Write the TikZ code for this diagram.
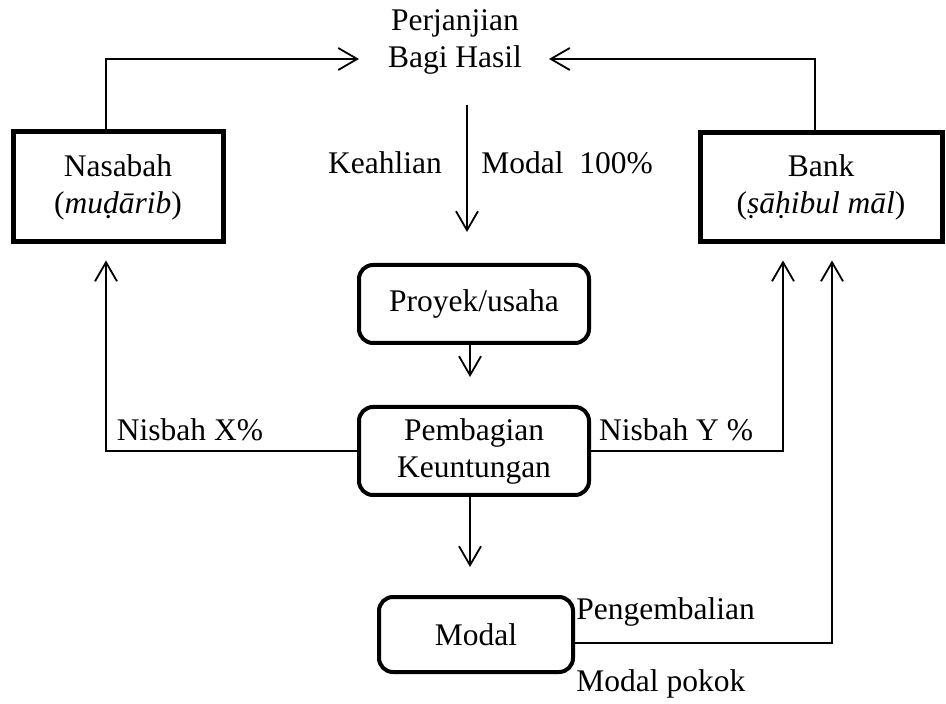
\documentclass[tikz,border=0pt]{standalone}
\usepackage{fontspec}
\setmainfont{Liberation Serif}
\usetikzlibrary{arrows.meta}
\begin{document}
\begin{tikzpicture}[x=0.5pt,y=-0.5pt,
  every node/.style={font=\fontsize{15.75}{18.5}\selectfont, inner sep=0pt},
  sqbox/.style={draw, line width=2.5pt, align=center},
  rbox/.style={draw, line width=2pt, rounded corners=7pt, align=center},
  conn/.style={line width=0.9pt},
  arr/.style={conn, -{Straight Barb[length=9.5pt,width=11pt,line width=0.9pt]}},
  lbl/.style={align=center}]
\useasboundingbox (0,0) rectangle (946,704);
\node[sqbox, minimum width=105pt, minimum height=55pt] (nas) at (118,187) {Nasabah\\(\textit{muḍārib})};
\node[sqbox, minimum width=121pt, minimum height=54.5pt] (bank) at (821,187.5) {Bank\\(\textit{ṣāḥibul māl})};
\node[lbl] (perj) at (455,42) {Perjanjian\\Bagi Hasil};
\node[rbox, minimum width=115pt, minimum height=39pt] (proj) at (474,304) {Proyek/usaha};
\node[rbox, minimum width=115pt, minimum height=44pt] (pemb) at (474,451) {Pembagian\\Keuntungan};
\node[rbox, minimum width=97pt, minimum height=37.5pt] (modal) at (476,634.5) {Modal};
\node (keah) at (385,163) {Keahlian};
\node (m100) at (567,163) {Modal\ \ 100\%};
\node (nx) at (190,430) {Nisbah X\%};
\node (ny) at (676,430) {Nisbah Y \%};
\node[anchor=west] (peng) at (576,612) {Pengembalian};
\node[anchor=west] (mpok) at (576,684) {Modal pokok};
\coordinate (tipL) at (359,59);
\coordinate (tipR) at (549,59);
\coordinate (lx) at (106,0);
\coordinate (rx) at (815,0);
\coordinate (dtop) at (467,105);
\coordinate (dtip) at (467,232);
\coordinate (ny2) at (783,0);
\coordinate (mp) at (832,0);
\draw[arr] (nas.north -| lx) |- (tipL);
\draw[arr] (bank.north -| rx) |- (tipR);
\draw[arr] (dtop) -- (dtip);
\draw[arr, shorten >=14pt] (proj.south -| 470,0) -- (pemb.north -| 470,0);
\draw[arr, shorten >=14pt] (pemb.south -| 470,0) -- (modal.north -| 470,0);
\draw[arr, shorten >=8pt] (pemb.west) -| (nas.south -| lx);
\draw[arr, shorten >=8pt] (pemb.east) -| (bank.south -| ny2);
\draw[arr, shorten >=8pt] (modal.east |- 0,643) -| (bank.south -| mp);
\end{tikzpicture}
\end{document}
